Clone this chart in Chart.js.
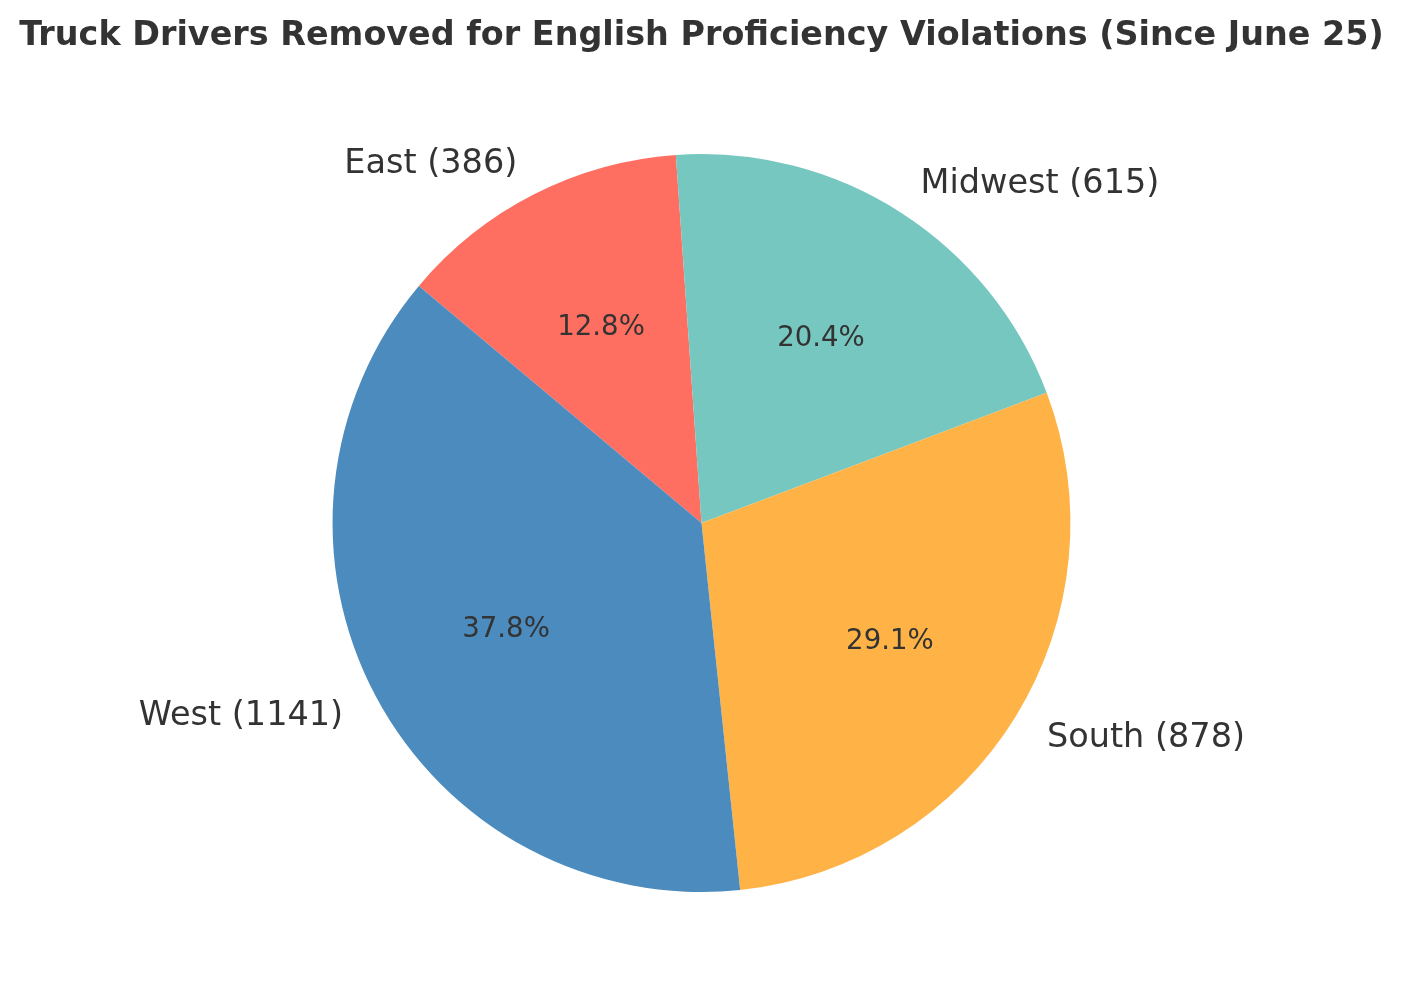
<!DOCTYPE html>
<html>
<head>
<meta charset="utf-8">
<title>Truck Drivers Removed</title>
<script src="https://cdn.jsdelivr.net/npm/chart.js@4/dist/chart.umd.min.js"></script>
<style>
  html, body { margin: 0; padding: 0; background: #ffffff; }
  #chart-pie { display: block; }
</style>
</head>
<body>
<canvas id="chart-pie" width="1403" height="1006"></canvas>
<script>
// Data: regions, drawn clockwise starting from East
var regions = ["East", "Midwest", "South", "West"];
var removed = [386, 615, 878, 1141];
var sliceColors = ["#FF6F61", "#76C7C0", "#FFB347", "#4B8BBE"];

var textColor = "#333333";
var fontFamily = "'DejaVu Sans', 'Liberation Sans', sans-serif";

// draws "Name (count)" outside and "xx.x%" inside each slice
var sliceLabels = {
  id: "sliceLabels",
  afterDatasetsDraw: function(chart) {
    var ctx = chart.ctx;
    var meta = chart.getDatasetMeta(0);
    var total = removed.reduce(function(a, b) { return a + b; }, 0);
    ctx.save();
    ctx.fillStyle = textColor;
    ctx.textBaseline = "middle";
    meta.data.forEach(function(arc, i) {
      var p = arc.getProps(["x", "y", "startAngle", "endAngle", "outerRadius"], true);
      var mid = (p.startAngle + p.endAngle) / 2;
      var cx = Math.cos(mid), cy = Math.sin(mid);

      // outer label
      ctx.font = "33.5px " + fontFamily;
      ctx.textAlign = cx >= 0 ? "left" : "right";
      ctx.fillText(regions[i] + " (" + removed[i] + ")",
                   p.x + cx * p.outerRadius * 1.1, p.y + cy * p.outerRadius * 1.1 + 2.5);

      // percentage
      ctx.font = "27.6px " + fontFamily;
      ctx.textAlign = "center";
      var pct = (removed[i] / total * 100).toFixed(1) + "%";
      ctx.fillText(pct, p.x + cx * p.outerRadius * 0.6, p.y + cy * p.outerRadius * 0.6 + 2.5);
    });
    ctx.restore();
  }
};

var configPie = {
  type: "pie",
  data: {
    labels: regions,
    datasets: [{
      data: removed,
      backgroundColor: sliceColors,
      borderWidth: 0
    }]
  },
  options: {
    responsive: false,
    animation: false,
    rotation: -50,
    layout: {
      padding: { top: 0, bottom: 114, left: 0, right: 0 }
    },
    plugins: {
      legend: { display: false },
      tooltip: { enabled: false },
      title: {
        display: true,
        text: "Truck Drivers Removed for English Proficiency Violations (Since June 25)",
        color: textColor,
        font: { family: fontFamily, size: 33.4, weight: "bold", lineHeight: 1.2 },
        padding: { top: 16, bottom: 98 }
      }
    }
  },
  plugins: [sliceLabels]
};

var chartPie = new Chart(document.getElementById("chart-pie"), configPie);
</script>
</body>
</html>
